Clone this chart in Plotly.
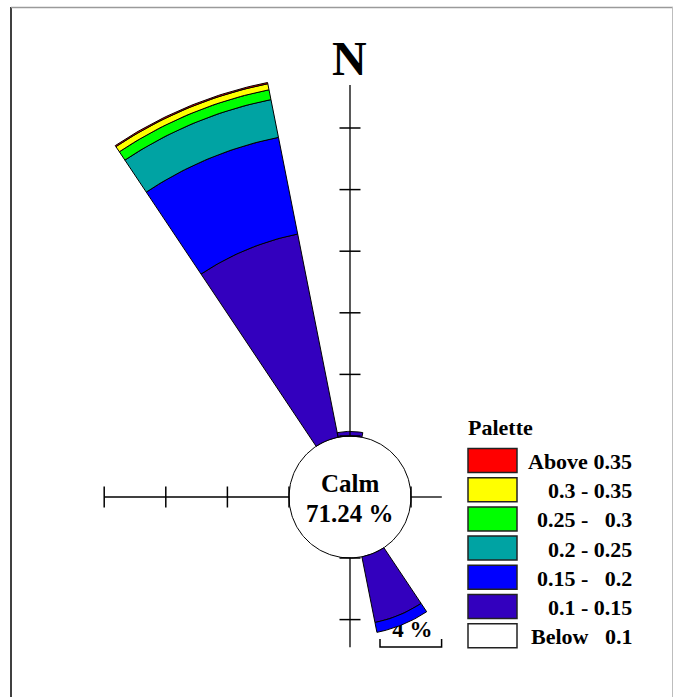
import plotly.graph_objects as go
import numpy as np

# ---------------- data ----------------
directions = ["N", "NNE", "NE", "ENE", "E", "ESE", "SE", "SSE",
              "S", "SSW", "SW", "WSW", "W", "WNW", "NW", "NNW"]
dir_angles = [i * 22.5 for i in range(16)]   # compass degrees, clockwise from N
sector_width = 22.5

calm_pct = 71.24

bin_labels = ["0.1 - 0.15", "0.15 - 0.2", "0.2 - 0.25", "0.25 - 0.3", "0.3 - 0.35", "Above 0.35"]
bin_colors = ["#3300BE", "#0000FF", "#00A3A3", "#00FF00", "#FFFF00", "#FF0000"]

#               N    NNE  NE   ENE  E    ESE  SE   SSE   S    SSW  SW   WSW  W    WNW  NW   NNW
freq_010_015 = [0.3, 0,   0,   0,   0,   0,   0,   4.35, 0,   0,   0,   0,   0,   0,   0,   13.45]
freq_015_020 = [0,   0,   0,   0,   0,   0,   0,   0.65, 0,   0,   0,   0,   0,   0,   0,   6.4]
freq_020_025 = [0,   0,   0,   0,   0,   0,   0,   0,    0,   0,   0,   0,   0,   0,   0,   2.5]
freq_025_030 = [0,   0,   0,   0,   0,   0,   0,   0,    0,   0,   0,   0,   0,   0,   0,   0.65]
freq_030_035 = [0,   0,   0,   0,   0,   0,   0,   0,    0,   0,   0,   0,   0,   0,   0,   0.4]
freq_above_035 = [0, 0,   0,   0,   0,   0,   0,   0,    0,   0,   0,   0,   0,   0,   0,   0.08]
freqs = [freq_010_015, freq_015_020, freq_020_025, freq_025_030, freq_030_035, freq_above_035]

legend_labels = ["Above 0.35", "0.3 - 0.35", "0.25 -   0.3", "0.2 - 0.25",
                 "0.15 -   0.2", "0.1 - 0.15", "Below   0.1"]
legend_colors = ["#FF0000", "#FFFF00", "#00FF00", "#00A3A3", "#0000FF", "#3300BE", "#FFFFFF"]

# compass cross: (compass angle, extent in %, tick positions in %, tick marker)
axis_specs = [
    (0, 22.8, [0, 4, 8, 12, 16, 20], "line-ew"),
    (90, 2.0, [0], "line-ns"),
    (180, 5.8, [0, 4], "line-ew"),
    (270, 12.0, [0, 4, 8, 12], "line-ns"),
]
scale_pct = 4

# ---------------- layout constants ----------------
W, H = 683, 697
CX, CY = 350, 497          # rose centre in pixels
P = 15.4                   # pixels per percent
HOLE_R = 61 / P            # calm circle radius in data units (percent)

def px(x):
    return x / W

def py(y):
    return (H - y) / H

def polar_xy(r, theta_deg):
    t = np.deg2rad(np.asarray(theta_deg, dtype=float))
    r = np.asarray(r, dtype=float)
    return r * np.sin(t), r * np.cos(t)

SERIF = "Liberation Serif"
fig = go.Figure()

# scale label (drawn first so the petal overlaps it, as in the original)
sb_x0 = (380 - CX) / P
sb_y = -(647 - CY) / P
fig.add_trace(go.Scatter(x=[sb_x0 + scale_pct / 2 + 0.1], y=[-(631 - CY) / P], mode="text",
                         text=[f"{scale_pct} %"],
                         textfont=dict(family=SERIF, size=23, color="black", weight="bold"),
                         hoverinfo="skip", showlegend=False, cliponaxis=False))

# calm circle
ct = np.linspace(0, 360, 241)
cx_, cy_ = polar_xy(np.full_like(ct, HOLE_R), ct)
fig.add_trace(go.Scatter(x=cx_, y=cy_, mode="lines", fill="toself", fillcolor="white",
                         line=dict(color="black", width=1), hoverinfo="skip", showlegend=False))

# petals: stacked annular sectors
cum = np.zeros(16)
for vals, lab, col in zip(freqs, bin_labels, bin_colors):
    vals = np.asarray(vals, dtype=float)
    xs, ys = [], []
    for k in range(16):
        if vals[k] <= 0:
            continue
        r0 = HOLE_R + cum[k]
        r1 = r0 + vals[k]
        th = np.linspace(dir_angles[k] - sector_width / 2, dir_angles[k] + sector_width / 2, 40)
        ox, oy = polar_xy(np.full_like(th, r1), th)
        ix, iy = polar_xy(np.full_like(th, r0), th[::-1])
        xs += list(ox) + list(ix) + [ox[0], None]
        ys += list(oy) + list(iy) + [oy[0], None]
    cum += vals
    if xs:
        fig.add_trace(go.Scatter(x=xs, y=ys, mode="lines", fill="toself", fillcolor=col,
                                 line=dict(color="black", width=1), name=lab,
                                 hoverinfo="skip", showlegend=False))

# compass cross with ticks
for theta, rmax, ticks, sym in axis_specs:
    lx, ly = polar_xy([HOLE_R, HOLE_R + rmax], [theta, theta])
    fig.add_trace(go.Scatter(x=lx, y=ly, mode="lines", line=dict(color="black", width=1.3),
                             hoverinfo="skip", showlegend=False))
    tx, ty = polar_xy(HOLE_R + np.asarray(ticks, dtype=float), [theta] * len(ticks))
    fig.add_trace(go.Scatter(x=tx, y=ty, mode="markers",
                             marker=dict(symbol=sym, size=15, line=dict(color="black", width=1.5)),
                             hoverinfo="skip", showlegend=False, cliponaxis=False))

# scale bar (length = scale_pct)
cap = 8 / P
fig.add_trace(go.Scatter(x=[sb_x0, sb_x0, sb_x0 + scale_pct, sb_x0 + scale_pct],
                         y=[sb_y + cap, sb_y, sb_y, sb_y + cap], mode="lines",
                         line=dict(color="black", width=1.5), hoverinfo="skip", showlegend=False))

fig.update_layout(
    width=W, height=H, autosize=False,
    margin=dict(l=0, r=0, t=0, b=0),
    paper_bgcolor="white", plot_bgcolor="white",
    xaxis=dict(range=[-CX / P, (W - CX) / P], visible=False, fixedrange=True),
    yaxis=dict(range=[-(H - CY) / P, CY / P], visible=False, fixedrange=True),
    showlegend=False,
)

shapes = []
annotations = []

# frame
shapes.append(dict(type="line", xref="paper", yref="paper", x0=px(11), x1=px(11), y0=py(7), y1=py(697),
                   line=dict(color="black", width=1.5)))
shapes.append(dict(type="line", xref="paper", yref="paper", x0=px(11), x1=px(673), y0=py(7.5), y1=py(7.5),
                   line=dict(color="#9a9a9a", width=1.5)))
shapes.append(dict(type="line", xref="paper", yref="paper", x0=px(672.5), x1=px(672.5), y0=py(7), y1=py(697),
                   line=dict(color="#bdbdbd", width=1)))

def text(t, x, y, size, xanchor="center"):
    annotations.append(dict(text=t, x=px(x), y=py(y), xref="paper", yref="paper",
                            xanchor=xanchor, yanchor="middle", showarrow=False,
                            font=dict(family=SERIF, size=size, color="black", weight="bold")))

text("N", 349, 58, 48)
text("Calm", CX, 483, 25)
text(f"{calm_pct:.2f} %", CX, 513, 25)

# palette legend
text("Palette", 466, 428, 22, xanchor="left")
row_y0 = 460.5
row_dy = 29.2
for i, (lab, col) in enumerate(zip(legend_labels, legend_colors)):
    yc = row_y0 + i * row_dy
    shapes.append(dict(type="rect", xref="paper", yref="paper", x0=px(468), x1=px(517),
                       y0=py(yc - 12), y1=py(yc + 12), fillcolor=col,
                       line=dict(color="#222222", width=1.5)))
    text(lab.replace("  ", "\u00a0\u00a0"), 634, yc + 1, 22, xanchor="right")

fig.update_layout(shapes=shapes, annotations=annotations)
fig.write_html("out.html")
